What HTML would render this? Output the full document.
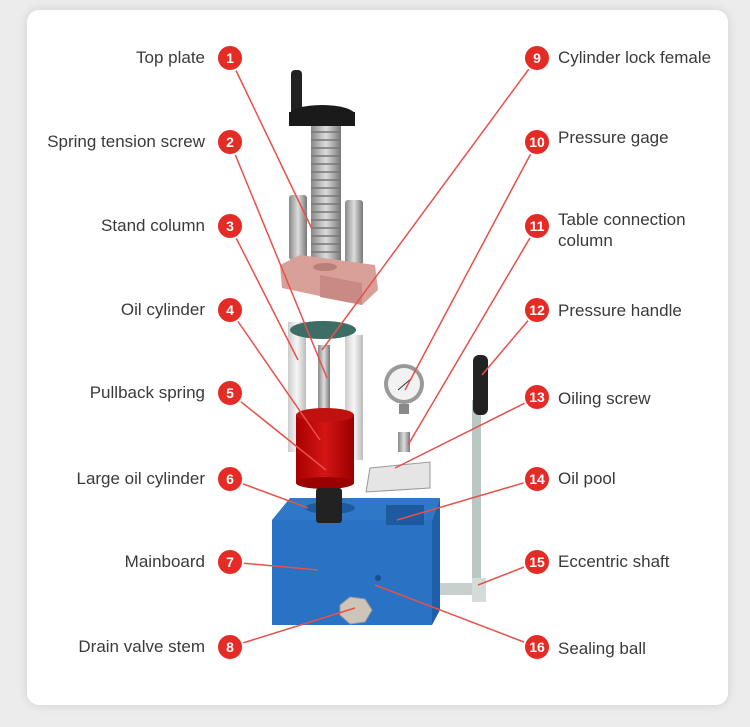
<!DOCTYPE html>
<html><head><meta charset="utf-8"><style>
body{margin:0;width:750px;height:727px;background:#ececec;overflow:hidden;font-family:"Liberation Sans",sans-serif;}
.card{position:absolute;left:27px;top:10px;width:701px;height:695px;background:#fff;border-radius:12px;box-shadow:0 0 10px rgba(0,0,0,.12);}
svg{position:absolute;left:0;top:0}
.l{position:absolute;font-size:17px;color:#3a3a3a;white-space:nowrap;line-height:21px}
.r{text-align:right;right:545px}
.rt{left:558px}
</style></head><body>
<div class="card"></div>
<svg width="750" height="727">
<defs><linearGradient id="sc" x1="0" x2="1"><stop offset="0" stop-color="#888"/><stop offset=".5" stop-color="#ddd"/><stop offset="1" stop-color="#777"/></linearGradient>
<linearGradient id="rd" x1="0" x2="1"><stop offset="0" stop-color="#a00"/><stop offset=".5" stop-color="#d41515"/><stop offset="1" stop-color="#900"/></linearGradient>
<linearGradient id="wc" x1="0" x2="1"><stop offset="0" stop-color="#ccc"/><stop offset=".5" stop-color="#f6f6f6"/><stop offset="1" stop-color="#bbb"/></linearGradient></defs>
<rect x="291" y="70" width="11" height="45" rx="4" fill="#222"/>
<ellipse cx="322" cy="115" rx="33" ry="10" fill="#1a1a1a"/>
<rect x="289" y="112" width="66" height="14" fill="#1a1a1a"/>
<rect x="311" y="126" width="30" height="145" fill="url(#sc)"/>
<g stroke="#777" stroke-width="1.5"><path d="M311 132h30M311 140h30M311 148h30M311 156h30M311 164h30M311 172h30M311 180h30M311 188h30M311 196h30M311 204h30M311 212h30M311 220h30M311 228h30M311 236h30M311 244h30M311 252h30"/></g>
<rect x="289" y="195" width="18" height="65" rx="3" fill="url(#sc)"/>
<rect x="345" y="200" width="18" height="65" rx="3" fill="url(#sc)"/>
<polygon points="280,265 300,255 375,265 378,290 362,305 282,288" fill="#d9a09a"/>
<polygon points="320,275 362,283 362,305 320,297" fill="#c88a84"/>
<ellipse cx="325" cy="267" rx="12" ry="4" fill="#b98078"/>
<rect x="288" y="322" width="18" height="130" fill="url(#wc)"/>
<rect x="345" y="335" width="18" height="125" fill="url(#wc)"/>
<ellipse cx="323" cy="330" rx="33" ry="9" fill="#3d6e66"/>
<rect x="318" y="345" width="12" height="70" fill="url(#sc)"/>
<rect x="296" y="415" width="58" height="68" fill="url(#rd)"/>
<ellipse cx="325" cy="483" rx="29" ry="6" fill="#900"/>
<ellipse cx="325" cy="415" rx="29" ry="7" fill="#c01010"/>
<polygon points="272,520 290,498 440,498 432,520" fill="#2f78c8"/>
<polygon points="432,520 440,498 440,610 432,625" fill="#1f5ea8"/>
<rect x="272" y="520" width="160" height="105" fill="#2a72c4"/>
<ellipse cx="330" cy="508" rx="25" ry="6" fill="#1d5aa0"/>
<rect x="386" y="505" width="38" height="20" fill="#1d5aa0"/>
<rect x="316" y="488" width="26" height="35" rx="3" fill="#222"/>
<path d="M340 605 L350 597 L365 599 L372 610 L365 622 L350 624 L340 615Z" fill="#ccc5b8" stroke="#999"/>
<circle cx="378" cy="578" r="3" fill="#1a4f90"/>
<circle cx="404" cy="384" r="20" fill="#999"/><circle cx="404" cy="384" r="16" fill="#f2f2f2"/>
<line x1="398" y1="390" x2="412" y2="378" stroke="#333"/>
<rect x="399" y="404" width="10" height="10" fill="#888"/>
<rect x="398" y="432" width="12" height="20" fill="url(#sc)"/>
<polygon points="370,468 430,462 430,488 366,492" fill="#e5e5e5" stroke="#999"/>
<rect x="472" y="400" width="9" height="188" fill="#b9c8c4"/>
<rect x="473" y="355" width="15" height="60" rx="6" fill="#222"/>
<rect x="440" y="583" width="45" height="12" fill="#c8d0ce"/>
<rect x="472" y="578" width="14" height="24" fill="#d4dcda"/>
<g stroke="#e8504a" stroke-width="1.5" fill="none">
<path d="M230 58L312 229M230 142L327 378M230 226L298 360M230 310L320 440M230 393L326 470M230 479L308 508M230 562L318 570M230 647L355 608M537 58L322 350M537 142L405 390M537 226L408 445M537 310L482 375M537 397L395 468M537 479L397 520M537 562L478 585M537 647L375 585"/>
</g>
<g font-family="Liberation Sans,sans-serif" font-weight="bold" font-size="14" fill="#fff" text-anchor="middle">
<g fill="#e42b25" stroke="#fff" stroke-width="2">
<circle cx="230" cy="58" r="13"/><circle cx="230" cy="142" r="13"/><circle cx="230" cy="226" r="13"/><circle cx="230" cy="310" r="13"/><circle cx="230" cy="393" r="13"/><circle cx="230" cy="479" r="13"/><circle cx="230" cy="562" r="13"/><circle cx="230" cy="647" r="13"/>
<circle cx="537" cy="58" r="13"/><circle cx="537" cy="142" r="13"/><circle cx="537" cy="226" r="13"/><circle cx="537" cy="310" r="13"/><circle cx="537" cy="397" r="13"/><circle cx="537" cy="479" r="13"/><circle cx="537" cy="562" r="13"/><circle cx="537" cy="647" r="13"/></g>
<text x="230" y="63">1</text><text x="230" y="147">2</text><text x="230" y="231">3</text><text x="230" y="315">4</text><text x="230" y="398">5</text><text x="230" y="484">6</text><text x="230" y="567">7</text><text x="230" y="652">8</text>
<text x="537" y="63">9</text><text x="537" y="147">10</text><text x="537" y="231">11</text><text x="537" y="315">12</text><text x="537" y="402">13</text><text x="537" y="484">14</text><text x="537" y="567">15</text><text x="537" y="652">16</text>
</g>
</svg>
<div class="l r" style="top:47px">Top plate</div>
<div class="l r" style="top:131px">Spring tension screw</div>
<div class="l r" style="top:215px">Stand column</div>
<div class="l r" style="top:299px">Oil cylinder</div>
<div class="l r" style="top:382px">Pullback spring</div>
<div class="l r" style="top:468px">Large oil cylinder</div>
<div class="l r" style="top:551px">Mainboard</div>
<div class="l r" style="top:636px">Drain valve stem</div>
<div class="l rt" style="top:47px">Cylinder lock female</div>
<div class="l rt" style="top:127px">Pressure gage</div>
<div class="l rt" style="top:209px">Table connection<br>column</div>
<div class="l rt" style="top:300px">Pressure handle</div>
<div class="l rt" style="top:388px">Oiling screw</div>
<div class="l rt" style="top:468px">Oil pool</div>
<div class="l rt" style="top:551px">Eccentric shaft</div>
<div class="l rt" style="top:638px">Sealing ball</div>
</body></html>
